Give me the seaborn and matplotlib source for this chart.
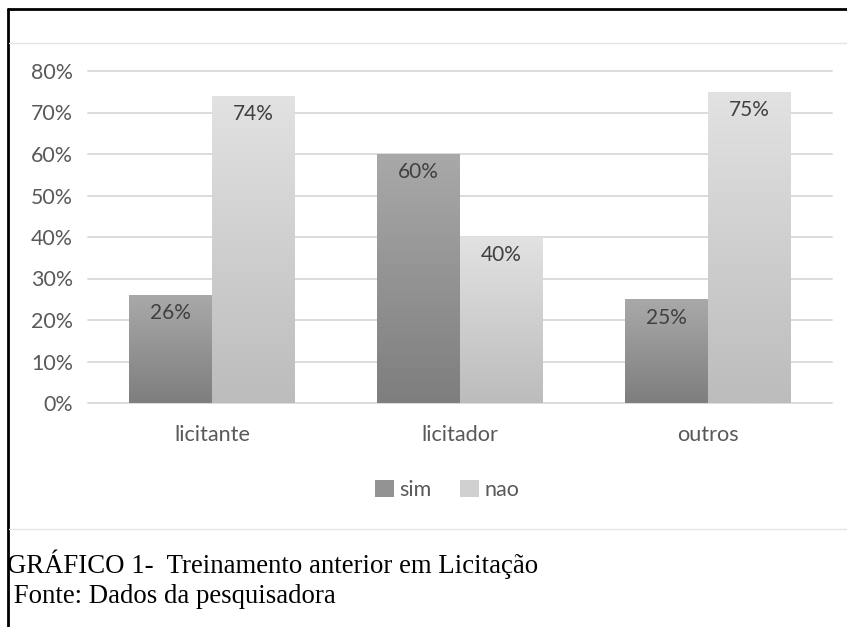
import numpy as np
import pandas as pd
import matplotlib
matplotlib.use("Agg")
import matplotlib.pyplot as plt
from matplotlib.lines import Line2D
from matplotlib.patches import Patch
import seaborn as sns

categories = ["licitante", "licitador", "outros"]
series_names = ["sim", "nao"]
sim_values = [0.26, 0.60, 0.25]
nao_values = [0.74, 0.40, 0.75]
value_labels_sim = ["26%", "60%", "25%"]
value_labels_nao = ["74%", "40%", "75%"]
y_ticks = [0.0, 0.1, 0.2, 0.3, 0.4, 0.5, 0.6, 0.7, 0.8]
y_tick_labels = ["0%", "10%", "20%", "30%", "40%", "50%", "60%", "70%", "80%"]
caption_lines = ["GRÁFICO 1-  Treinamento anterior em Licitação", " Fonte: Dados da pesquisadora"]

df = pd.DataFrame({
    "cat": categories * 2,
    "serie": ["sim"] * 3 + ["nao"] * 3,
    "valor": sim_values + nao_values,
    "label": value_labels_sim + value_labels_nao,
})

sns.set_theme(style="white")
plt.rcParams["font.family"] = ["Lato", "DejaVu Sans"]

W, H = 847, 627
fig = plt.figure(figsize=(W / 100, H / 100), dpi=100)
fig.patch.set_facecolor("white")

def fx(px):
    return px / W

def fy(py):
    return 1 - py / H

ax = fig.add_axes([fx(88), fy(403), fx(832) - fx(88), fy(71) - fy(403)])

grad_colors = {"sim": ("#a9a9a9", "#7e7e7e"), "nao": ("#e2e2e2", "#bcbcbc")}
flat_colors = {"sim": "#939393", "nao": "#d0d0d0"}

sns.barplot(data=df, x="cat", y="valor", hue="serie", hue_order=series_names,
            order=categories, palette=flat_colors, width=0.667, dodge=True,
            gap=0, linewidth=0, saturation=1, legend=False, ax=ax, zorder=3)

ax.set_xlim(-0.5, 2.5)
ax.set_ylim(0, 0.8)

# gridlines
for t in y_ticks:
    ax.axhline(t, color="#d9d9d9", lw=1.3, zorder=1, clip_on=False)

# gradient fill for each bar
bars = [p for p in ax.patches]
ordered = []
for i, s in enumerate(series_names):
    for j in range(len(categories)):
        ordered.append((s, j))
for patch, (s, j) in zip(bars, ordered):
    x0, y0 = patch.get_x(), patch.get_y()
    w, h = patch.get_width(), patch.get_height()
    top, bot = grad_colors[s]
    cmap = matplotlib.colors.LinearSegmentedColormap.from_list("g", [bot, top])
    grad = np.linspace(0, 1, 256).reshape(-1, 1)
    im = ax.imshow(grad, cmap=cmap, aspect="auto", origin="lower",
                   extent=[x0, x0 + w, y0, y0 + h], zorder=4)
    im.set_clip_path(patch)
    lbl = value_labels_sim[j] if s == "sim" else value_labels_nao[j]
    ax.annotate(lbl, (x0 + w / 2, y0 + h), xytext=(0, -6), textcoords="offset points",
                ha="center", va="top", fontsize=15, color="#404040", zorder=5)

ax.set_xlim(-0.5, 2.5)
ax.set_ylim(0, 0.8)
ax.set_yticks(y_ticks)
ax.set_yticklabels(y_tick_labels)
ax.tick_params(axis="y", length=0, pad=10.8, labelsize=15.4, labelcolor="#595959")
ax.tick_params(axis="x", length=0, pad=15.5, labelsize=15.6, labelcolor="#595959")
ax.set_xlabel("")
ax.set_ylabel("")
for sp in ax.spines.values():
    sp.set_visible(False)
ax.set_facecolor("none")

# legend
handles = [Patch(facecolor=flat_colors[s], edgecolor="none") for s in series_names]
fig.legend(handles, series_names, loc="center", bbox_to_anchor=(fx(447), fy(490)),
           ncol=2, frameon=False, fontsize=15.5, handlelength=0.88, handleheight=0.88,
           handletextpad=0.25, columnspacing=1.35, labelcolor="#595959")

# frame lines
fig.add_artist(Line2D([fx(8), 1], [fy(9), fy(9)], color="black", lw=2))
fig.add_artist(Line2D([fx(8), fx(8)], [fy(9), 0], color="black", lw=2))
fig.add_artist(Line2D([fx(9), 1], [fy(43), fy(43)], color="#e4e4e4", lw=1))
fig.add_artist(Line2D([fx(9), 1], [fy(529), fy(529)], color="#e4e4e4", lw=1))

# caption
fig.text(fx(7), fy(573), caption_lines[0], family=["Liberation Serif"], fontsize=19.3,
         color="black", va="baseline", ha="left")
fig.text(fx(7), fy(603), caption_lines[1], family=["Liberation Serif"], fontsize=19.3,
         color="black", va="baseline", ha="left")

fig.savefig("out.png", dpi=100)
